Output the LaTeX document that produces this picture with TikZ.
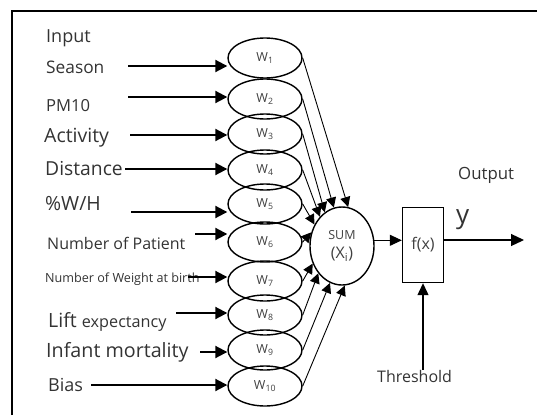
\documentclass[tikz,border=0pt]{standalone}
\usepackage{fontspec}
\setmainfont{Open Sans}
\usetikzlibrary{arrows.meta,shapes.geometric}

\tikzset{
  wnode/.style={draw,ellipse,line width=1.4pt,minimum width=74pt,minimum height=40pt,inner sep=0pt,
    text=black!75,font=\fontsize{12.5}{12}\selectfont},
  inlabel/.style={anchor=west,inner sep=0pt,text=black!80},
  inarrow/.style={line width=2pt,-{Triangle[length=12pt,width=12pt]}},
  toarrow/.style={line width=0.9pt,-{Triangle[length=10pt,width=10pt]}},
}

\begin{document}
\begin{tikzpicture}[x=1pt,y=-1pt]
    \useasboundingbox (0,0) rectangle (537,415);
    \draw[line width=2pt] (12,415) -- (12,11) -- (537,11);

    % inputs
    \node[inlabel,font=\fontsize{18}{18}\selectfont] (input) at (46,38) {Input};
    \node[inlabel,font=\fontsize{17.3}{18}\selectfont] (l1) at (46,67) {Season};
    \node[inlabel,font=\fontsize{16.6}{18}\selectfont] (l2) at (46,106) {PM10};
    \node[inlabel,font=\fontsize{19.5}{20}\selectfont] (l3) at (44,138) {Activity};
    \node[inlabel,font=\fontsize{19.3}{20}\selectfont] (l4) at (45,169) {Distance};
    \node[inlabel,font=\fontsize{19.5}{20}\selectfont] (l5) at (45,204) {\%W/H};
    \node[inlabel,font=\fontsize{16}{18}\selectfont] (l6) at (47,243) {Number of Patient};
    \node[inlabel,font=\fontsize{12.6}{14}\selectfont] (l7) at (45,279) {Number of Weight at birth};
    \node[inlabel,font=\fontsize{19.6}{20}\selectfont] (l8) at (48,322) {Lift {\fontsize{16.2}{18}\selectfont expectancy}};
    \node[inlabel,font=\fontsize{19.7}{20}\selectfont] (l9) at (46,352) {Infant mortality};
    \node[inlabel,font=\fontsize{18}{18}\selectfont] (l10) at (48,385) {Bias};

    % weights
    \foreach \i/\y in {1/58,2/99,3/134,4/170,5/204,6/242,7/281,8/315,9/350,10/386}
        \node[wnode] (w\i) at (265,\y) {W\textsubscript{\i}};

    \foreach \i/\x/\y in {1/128/66,2/128/97,3/130/135,4/125/169,5/131/212,6/195/234,7/188/277,8/176/313,9/200/352,10/91/385}{
        \coordinate (a\i) at (\x,\y);
        \draw[inarrow] (a\i) -- (a\i -| w\i.west);
    }

    % sum and activation
    \node[draw,ellipse,line width=1.4pt,minimum width=64pt,minimum height=78pt,inner sep=0pt,align=center,text=black!75]
        (sum) at (342,246) {\fontsize{12.5}{13}\selectfont SUM\\[7pt]\fontsize{16}{16}\selectfont(X\textsubscript{i})};
    \foreach \i/\a in {1/81,2/102,3/117,4/127,5/142,6/156,7/211,8/229,9/252,10/274}
        \draw[toarrow] (w\i.east) -- (sum.\a);

    \node[draw,line width=1.4pt,minimum width=41pt,minimum height=75pt,inner sep=0pt,text=black!75,
        font=\fontsize{16}{16}\selectfont] (fx) at (423,245) {f(x)};
    \draw[line width=1pt,-{Triangle[length=12pt,width=11pt]}] (sum.10) -- (sum.10 -| fx.west);

    \node[inlabel,font=\fontsize{16}{18}\selectfont] (thr) at (377,376) {Threshold};
    \draw[line width=1.2pt,-{Triangle[length=12pt,width=11pt]}] (thr.north -| fx.south) -- (fx.south);

    % output
    \node[inlabel,font=\fontsize{16.8}{18}\selectfont] (outlbl) at (458,175) {Output};
    \node[inlabel,font=\fontsize{26}{26}\selectfont] (y) at (456,220) {y};
    \coordinate (out) at (524,240);
    \draw[line width=1.2pt,-{Triangle[length=13pt,width=12pt]}] (out -| fx.east) -- (out);
\end{tikzpicture}
\end{document}
